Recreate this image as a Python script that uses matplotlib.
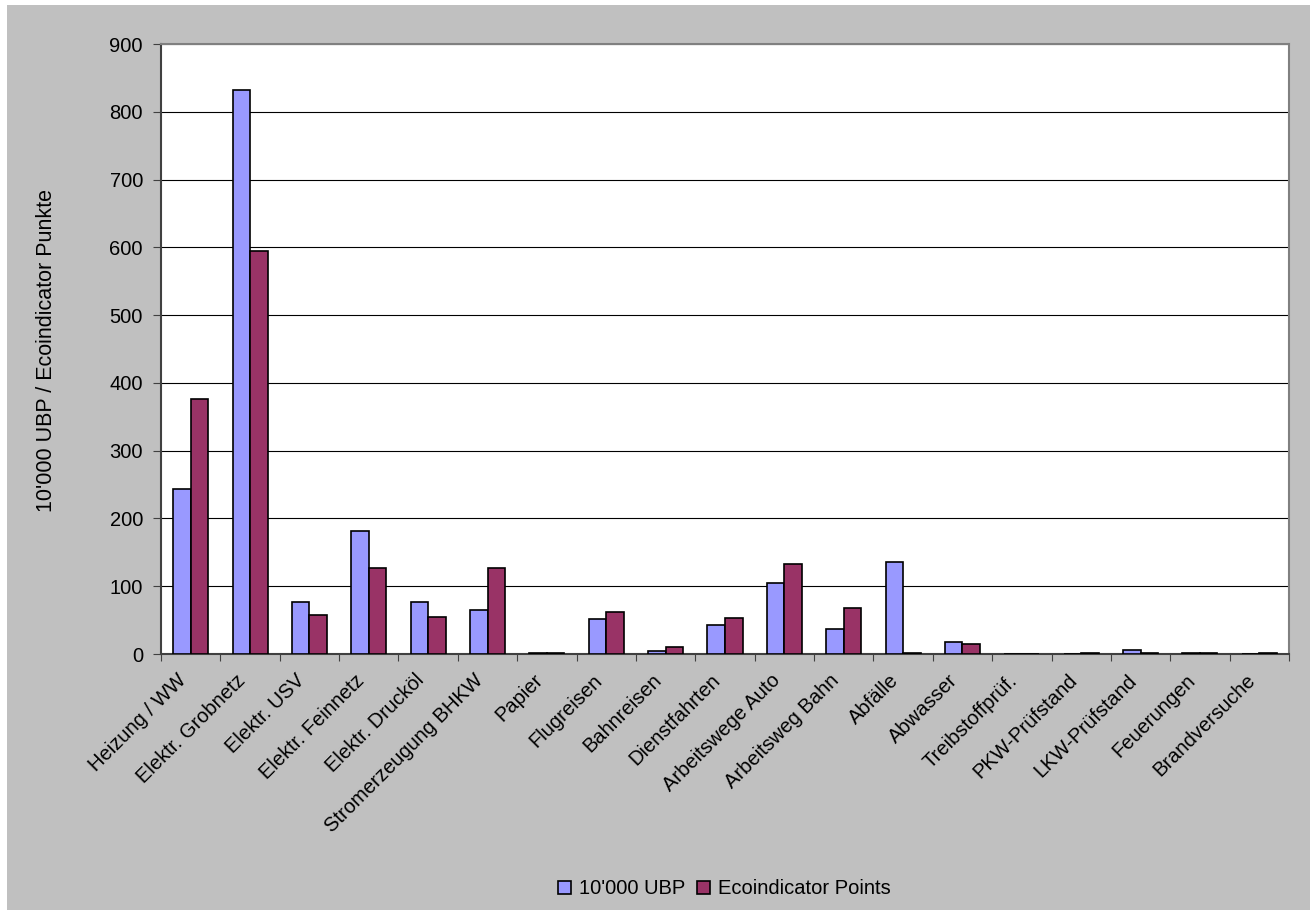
import numpy as np
import matplotlib.pyplot as plt
from matplotlib.transforms import ScaledTranslation

# =============================================================================
#  Data
# =============================================================================

categories = [
    "Heizung / WW", "Elektr. Grobnetz", "Elektr. USV", "Elektr. Feinnetz",
    "Elektr. Drucköl", "Stromerzeugung BHKW", "Papier", "Flugreisen",
    "Bahnreisen", "Dienstfahrten", "Arbeitswege Auto", "Arbeitsweg Bahn",
    "Abfälle", "Abwasser", "Treibstoffprüf.", "PKW-Prüfstand",
    "LKW-Prüfstand", "Feuerungen", "Brandversuche",
]
ubp = [243, 832, 77, 181, 77, 65, 2, 51, 5, 43, 105, 37, 136, 17, 0, 0, 6, 2, 0]
eco = [376, 594, 57, 127, 54, 127, 2, 62, 11, 53, 133, 68, 2, 15, 0, 2, 2, 2, 2]

series_names = ["10'000 UBP", "Ecoindicator Points"]
ylabel = "10'000 UBP / Ecoindicator Punkte"

# =============================================================================
#  Plot
# =============================================================================

plt.rcParams["font.family"] = ["Liberation Sans", "DejaVu Sans"]

fig = plt.figure(figsize=(13.1, 9.1), dpi=100, facecolor="white")
# grey chart area, leaving a thin white strip at the left and top
fig.patches.append(plt.Rectangle((7 / 1310, 0), 1, 1 - 5 / 910,
                                 transform=fig.transFigure,
                                 facecolor="#c0c0c0", edgecolor="none",
                                 zorder=-1))

ax = fig.add_axes([161 / 1310, 1 - 654 / 910, 1128 / 1310, 610 / 910])
ax.set_facecolor("white")

x = np.arange(len(categories))
w = 0.295
ax.bar(x - w / 2, ubp, w, color="#9999ff", edgecolor="black", linewidth=1.2,
       label=series_names[0], zorder=3)
ax.bar(x + w / 2, eco, w, color="#993366", edgecolor="black", linewidth=1.2,
       label=series_names[1], zorder=3)

ax.set_xlim(-0.5, len(categories) - 0.5)
ax.set_ylim(0, 900)
ax.set_yticks(range(0, 901, 100))
ax.yaxis.grid(True, color="black", linewidth=0.8, zorder=0)

# category ticks sit between groups, labels at group centres
ax.set_xticks(np.arange(len(categories) + 1) - 0.5)
ax.set_xticklabels([])
ax.set_xticks(x, minor=True)
ax.set_xticklabels(categories, minor=True, rotation=45, ha="right",
                   rotation_mode="anchor", fontsize=14.5)
ax.tick_params(axis="x", which="minor", length=0, pad=12)
ax.tick_params(axis="x", which="major", length=5, direction="out",
               color="#404040")
ax.tick_params(axis="y", length=6, direction="out", color="#404040",
               labelsize=14.5, pad=7)

shift = ScaledTranslation(-14 / 100, 0, fig.dpi_scale_trans)
for lab in ax.get_xticklabels(minor=True):
    lab.set_transform(lab.get_transform() + shift)

for side in ["top", "right"]:
    ax.spines[side].set_color("#808080")
    ax.spines[side].set_linewidth(1.5)
for side in ["left", "bottom"]:
    ax.spines[side].set_color("#404040")
    ax.spines[side].set_linewidth(1.5)

fig.text(47 / 1310, 1 - 350 / 910, ylabel, rotation=90, ha="center",
         va="center", fontsize=15.5)

fig.legend(loc="center", bbox_to_anchor=(0.553, 1 - 889 / 910), ncol=2,
           frameon=False, fontsize=14.5, handlelength=0.65, handleheight=0.65,
           handletextpad=0.4, columnspacing=0.6)

fig.savefig("out.png", dpi=100, facecolor=fig.get_facecolor())
